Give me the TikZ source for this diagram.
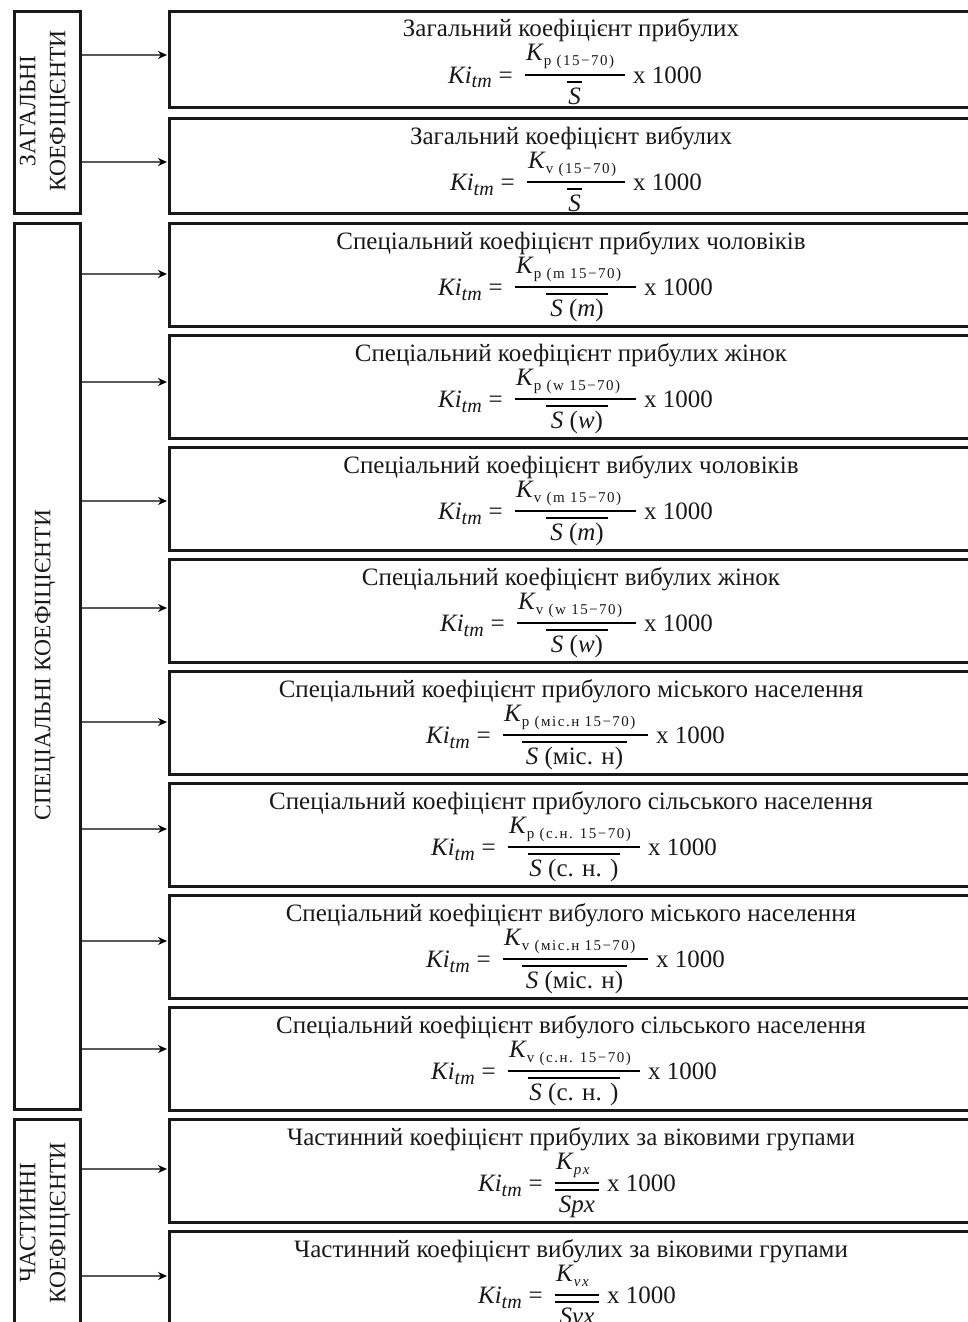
\documentclass[tikz,border=0pt]{standalone}
\usepackage{fontspec}
\setmainfont{Liberation Serif}
\usetikzlibrary{arrows.meta}
\newcommand{\subsz}{\fontsize{15}{15}\selectfont\addfontfeature{LetterSpace=10}}
\newcommand{\tmsz}{\fontsize{20}{20}\selectfont}
\tikzset{
  grp/.style={draw=black!90, line width=2.6pt, anchor=north west, minimum width=66pt, inner sep=0pt},
  cbox/.style={draw=black!90, line width=2.6pt, anchor=north west, minimum width=810pt, inner sep=0pt},
  ttl/.style={font=\fontsize{25}{29}\selectfont, text=black!90, inner sep=0pt},
  ftxt/.style={font=\fontsize{25}{29}\selectfont, text=black!90, inner sep=0pt},
  fbar/.style={line width=2.4pt, black},
  obar/.style={line width=2.2pt, black},
  arr/.style={line width=2.2pt, black!65, -{Stealth[length=9pt,width=8pt,black]}},
  glabel/.style={font=\fontsize{23.5}{30}\selectfont, text=black!90, rotate=90, align=center, inner sep=0pt},
}
\newcommand{\coef}[9]{%
  \pgfmathsetmacro{\by}{#2+65}%
  \node[ttl, anchor=base] (#1t) at (571,{#2+27}) {#3};
  \draw[fbar] (#4,\by) -- (#5,\by);
  \draw[obar] (#6,{\by+7}) -- (#7,{\by+7});
  \node[ftxt, anchor=base east] (#1l) at ({#4-12},{\by+8}) {\textit{Ki}\raisebox{-5pt}{\tmsz\textit{tm}}\hspace{7pt}=};
  \node[ftxt, anchor=base west] (#1x) at ({#5+8},{\by+8}) {x 1000};
  \node[ftxt, anchor=base west] (#1n) at ({#4+1},{\by-14}) {#8};
  \node[ftxt, anchor=base] (#1d) at ({(#6+#7)/2},{\by+29}) {#9};
}
\begin{document}
\begin{tikzpicture}[x=1pt,y=-1pt]
\fill[white] (0,0) rectangle (968,1322);
\useasboundingbox (0,0) rectangle (968,1322);
% group boxes
\node[grp, minimum height=202pt] (g1) at (13,10) {};
\node[grp, minimum height=886pt] (g2) at (13,222) {};
\node[grp, minimum height=214pt] (g3) at (13,1118) {};
\node[glabel] (g1l) at (45,111) {ЗАГАЛЬНІ\\КОЕФІЦІЄНТИ};
\node[glabel] (g2l) at (45,665) {СПЕЦІАЛЬНІ КОЕФІЦІЄНТИ};
\node[glabel] (g3l) at (45,1223) {ЧАСТИННІ\\КОЕФІЦІЄНТИ};
% coefficient boxes
\node[cbox, minimum height=96pt] (b1) at (168,10) {};
\node[cbox, minimum height=95pt] (b2) at (168,117) {};
\node[cbox, minimum height=103pt] (b3) at (168,222) {};
\node[cbox, minimum height=103pt] (b4) at (168,334) {};
\node[cbox, minimum height=103pt] (b5) at (168,446) {};
\node[cbox, minimum height=103pt] (b6) at (168,558) {};
\node[cbox, minimum height=103pt] (b7) at (168,670) {};
\node[cbox, minimum height=103pt] (b8) at (168,782) {};
\node[cbox, minimum height=103pt] (b9) at (168,894) {};
\node[cbox, minimum height=103pt] (b10) at (168,1006) {};
\node[cbox, minimum height=103pt] (b11) at (168,1118) {};
\node[cbox, minimum height=103pt] (b12) at (168,1230) {};
% arrow end points on the boxes' left borders
\coordinate (a1) at (167,55);
\coordinate (a2) at (167,162);
\coordinate (a3) at (167,274);
\coordinate (a4) at (167,382);
\coordinate (a5) at (167,501);
\coordinate (a6) at (167,608);
\coordinate (a7) at (167,722);
\coordinate (a8) at (167,829);
\coordinate (a9) at (167,941);
\coordinate (a10) at (167,1049);
\coordinate (a11) at (167,1169);
\coordinate (a12) at (167,1276);
\foreach \a in {a1,a2}{\draw[arr] (g1.east |- \a) -- (\a);}
\foreach \a in {a3,a4,a5,a6,a7,a8,a9,a10}{\draw[arr] (g2.east |- \a) -- (\a);}
\foreach \a in {a11,a12}{\draw[arr] (g3.east |- \a) -- (\a);}
% formulas
\coef{f1}{10}{Загальний коефіцієнт прибулих}{525}{625}{567}{582}{\textit{K}\raisebox{-5pt}{\subsz p (15−70)}}{\textit{S}}
\coef{f2}{117}{Загальний коефіцієнт вибулих}{527}{625}{567}{582}{\textit{K}\raisebox{-5pt}{\subsz v (15−70)}}{\textit{S}}
\coef{f3}{222}{Спеціальний коефіцієнт прибулих чоловіків}{515}{636}{546}{608}{\textit{K}\raisebox{-5pt}{\subsz p (m 15−70)}}{\textit{S} (\textit{m})}
\coef{f4}{334}{Спеціальний коефіцієнт прибулих жінок}{515}{636}{546}{608}{\textit{K}\raisebox{-5pt}{\subsz p (w 15−70)}}{\textit{S} (\textit{w})}
\coef{f5}{446}{Спеціальний коефіцієнт вибулих чоловіків}{515}{636}{546}{608}{\textit{K}\raisebox{-5pt}{\subsz v (m 15−70)}}{\textit{S} (\textit{m})}
\coef{f6}{558}{Спеціальний коефіцієнт вибулих жінок}{517}{636}{546}{608}{\textit{K}\raisebox{-5pt}{\subsz v (w 15−70)}}{\textit{S} (\textit{w})}
\coef{f7}{670}{Спеціальний коефіцієнт прибулого міського населення}{503}{648}{522}{627}{\textit{K}\raisebox{-5pt}{\subsz p (міс.н 15−70)}}{\textit{S} (міс. н)}
\coef{f8}{782}{Спеціальний коефіцієнт прибулого сільського населення}{508}{640}{528}{620}{\textit{K}\raisebox{-5pt}{\subsz p (с.н. 15−70)}}{\textit{S} (с. н. )}
\coef{f9}{894}{Спеціальний коефіцієнт вибулого міського населення}{503}{648}{522}{627}{\textit{K}\raisebox{-5pt}{\subsz v (міс.н 15−70)}}{\textit{S} (міс. н)}
\coef{f10}{1006}{Спеціальний коефіцієнт вибулого сільського населення}{508}{640}{528}{620}{\textit{K}\raisebox{-5pt}{\subsz v (с.н. 15−70)}}{\textit{S} (с. н. )}
\coef{f11}{1118}{Частинний коефіцієнт прибулих за віковими групами}{555}{599}{555}{599}{\textit{K}\raisebox{-5pt}{\subsz\textit{px}}}{\textit{Spx}}
\coef{f12}{1230}{Частинний коефіцієнт вибулих за віковими групами}{555}{599}{555}{599}{\textit{K}\raisebox{-5pt}{\subsz\textit{vx}}}{\textit{Svx}}
\end{tikzpicture}
\end{document}
